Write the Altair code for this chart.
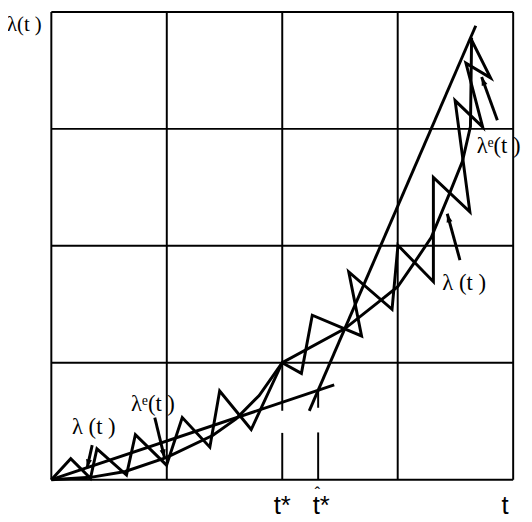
import math
import altair as alt
import pandas as pd

# ---- data (t, lambda) ----
curve_t = [0, 0.34, 0.64, 1.0, 1.4, 1.6, 1.8, 2.0, 2.54, 2.86, 3.0, 3.14, 3.29, 3.45, 3.56, 3.63, 3.64]
curve_l = [0, 0.02, 0.07, 0.19, 0.38, 0.52, 0.72, 1.0, 1.29, 1.54, 1.65, 1.85, 2.07, 2.45, 2.72, 3.02, 3.78]

zig_t = [0, 0.168, 0.339, 0.395, 0.651, 0.728, 0.998, 1.134, 1.373, 1.458, 1.731, 2.0,
         2.166, 2.260, 2.687, 2.576, 2.951, 3.002, 3.309, 3.309, 3.625, 3.497, 3.736,
         3.591, 3.804, 3.633]
zig_l = [0, 0.179, 0.011, 0.264, 0.040, 0.385, 0.124, 0.531, 0.278, 0.758, 0.429, 1.0,
         0.909, 1.406, 1.229, 1.777, 1.457, 2.004, 1.693, 2.585, 2.291, 3.242, 3.015,
         3.562, 3.436, 3.773]

pre_t = [0, 2.45]
pre_l = [0, 0.81]
post_t = [2.234, 3.676]
post_l = [0.589, 3.882]

# grid / marker segments
vseg_t = [0, 1, 2, 2, 3, 4, 2.311, 2.311]
vseg_lo = [0, 0, 0.59, 0, 0, 0, 0.615, 0]
vseg_hi = [4, 4, 4, 0.40, 4, 4, 0.766, 0.404]
hgrid_l = [0, 1, 2, 3, 4]

# arrows: tail -> tip
arr_t0 = [3.863, 3.539, 0.354, 0.896]
arr_l0 = [3.074, 1.878, 0.295, 0.531]
arr_t1 = [3.727, 3.429, 0.310, 0.981]
arr_l1 = [3.444, 2.274, 0.101, 0.185]

# labels
lab_text = ["λ(t )", "λ (t )", "λᵉ(t )", "λᵉ(t )", "λ (t )"]
lab_t = [-0.384, 0.179, 0.691, 3.684, 3.386]
lab_l = [3.84, 0.387, 0.589, 2.79, 1.625]
lab_size = [21, 23, 23, 23, 23]

bot_text = ["t*", "t*", "t"]
bot_t = [2.0, 2.337, 3.93]
bot_l = [-0.295, -0.295, -0.295]
hat_t = [2.305]
hat_l = [-0.165]

# ---- tables ----
rows = []
for name, ts, ls in [("curve", curve_t, curve_l), ("zig", zig_t, zig_l),
                     ("pre", pre_t, pre_l), ("post", post_t, post_l)]:
    for i, (a, b) in enumerate(zip(ts, ls)):
        rows.append({"s": name, "o": i, "t": a, "l": b})
for k in range(len(arr_t0)):
    rows.append({"s": f"a{k}", "o": 0, "t": arr_t0[k], "l": arr_l0[k]})
    rows.append({"s": f"a{k}", "o": 1, "t": arr_t1[k], "l": arr_l1[k]})
lines_df = pd.DataFrame(rows)

vdf = pd.DataFrame({"t": vseg_t, "lo": vseg_lo, "hi": vseg_hi})
hdf = pd.DataFrame({"l": hgrid_l, "t0": [0] * 5, "t1": [4] * 5})

heads = []
for k in range(len(arr_t0)):
    dx = (arr_t1[k] - arr_t0[k]) * 117.25
    dy = -(arr_l1[k] - arr_l0[k]) * 118.75
    ang = math.degrees(math.atan2(dx, -dy)) % 360
    heads.append({"t": arr_t1[k], "l": arr_l1[k], "ang": ang})
hdf2 = pd.DataFrame(heads)

labdf = pd.DataFrame({"txt": lab_text, "t": lab_t, "l": lab_l, "sz": lab_size})
botdf = pd.DataFrame({"txt": bot_text, "t": bot_t, "l": bot_l})
hatdf = pd.DataFrame({"txt": ["ˆ"], "t": hat_t, "l": hat_l})

xs = alt.Scale(domain=[0, 4], nice=False, zero=False)
ys = alt.Scale(domain=[0, 4], nice=False, zero=False)

vrules = alt.Chart(vdf).mark_rule(color="black", strokeWidth=2).encode(
    x=alt.X("t:Q", scale=xs, axis=None),
    y=alt.Y("lo:Q", scale=ys, axis=None),
    y2="hi:Q",
)
hrules = alt.Chart(hdf).mark_rule(color="black", strokeWidth=2).encode(
    y=alt.Y("l:Q", scale=ys, axis=None),
    x=alt.X("t0:Q", scale=xs, axis=None),
    x2="t1:Q",
)
lines = alt.Chart(lines_df).mark_line(color="black", strokeWidth=3).encode(
    x=alt.X("t:Q", scale=xs, axis=None),
    y=alt.Y("l:Q", scale=ys, axis=None),
    detail="s:N",
    order="o:Q",
)
arrowheads = alt.Chart(hdf2).mark_point(
    shape="M0,0L-0.35,1L0.35,1Z", filled=True, color="black", size=300, opacity=1
).encode(
    x=alt.X("t:Q", scale=xs, axis=None),
    y=alt.Y("l:Q", scale=ys, axis=None),
    angle=alt.Angle("ang:Q", scale=None),
)
labels = alt.Chart(labdf).mark_text(
    font="Times New Roman, Liberation Serif, DejaVu Serif, serif",
    align="left", baseline="alphabetic", color="black"
).encode(
    x=alt.X("t:Q", scale=xs, axis=None),
    y=alt.Y("l:Q", scale=ys, axis=None),
    text="txt:N",
    size=alt.Size("sz:Q", scale=None, legend=None),
)
bots = alt.Chart(botdf).mark_text(
    font="Arial, Liberation Sans, sans-serif", fontSize=26, align="center",
    baseline="alphabetic", color="black"
).encode(
    x=alt.X("t:Q", scale=xs, axis=None),
    y=alt.Y("l:Q", scale=ys, axis=None),
    text="txt:N",
)
hat = alt.Chart(hatdf).mark_text(
    font="Arial, Liberation Sans, sans-serif", fontSize=16, align="center",
    baseline="alphabetic", color="black"
).encode(
    x=alt.X("t:Q", scale=xs, axis=None),
    y=alt.Y("l:Q", scale=ys, axis=None),
    text="txt:N",
)

chart = alt.layer(vrules, hrules, lines, arrowheads, labels, bots, hat).properties(
    width=469,
    height=475,
    autosize=alt.AutoSizeParams(type="none"),
    padding={"left": 44, "top": 0, "right": 11, "bottom": 39},
    background="white",
).configure_view(stroke=None)

chart.save("out.html", embed_options={"renderer": "svg", "actions": False})
